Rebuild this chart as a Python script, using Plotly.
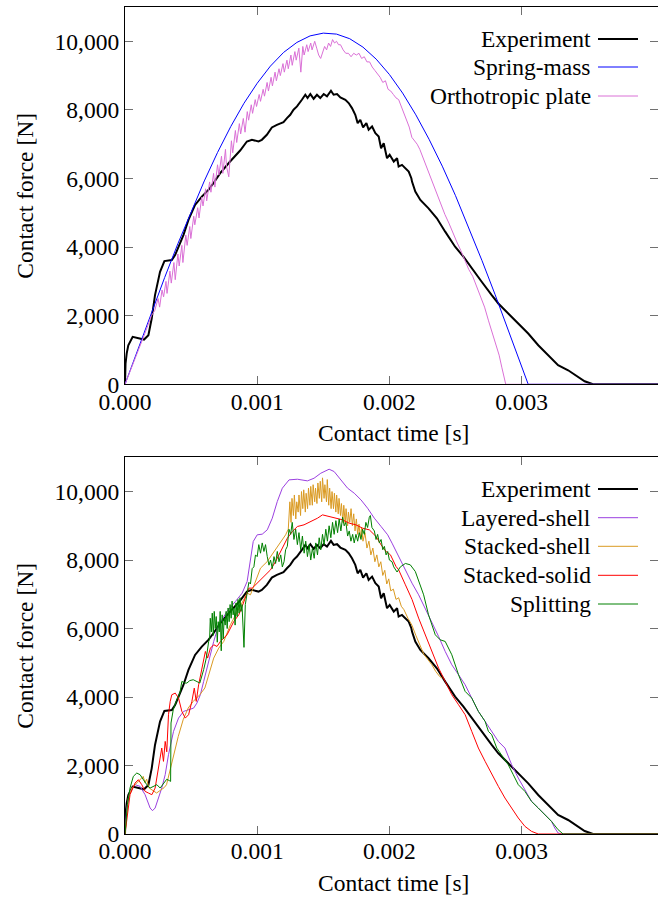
import numpy as np
import plotly.graph_objects as go

# ---------------- data (time in ms, force in N) ----------------
experiment = [
    (0, 0), (0.004, 600), (0.013, 900), (0.025, 1139), (0.058, 1383), (0.101, 1334), (0.144, 1305),
    (0.177, 1431), (0.202, 1918), (0.227, 2600), (0.265, 3281), (0.298, 3593), (0.354, 3622),
    (0.379, 3768), (0.442, 4352), (0.480, 4791), (0.530, 5229), (0.581, 5472), (0.631, 5667),
    (0.669, 5862), (0.720, 6154), (0.795, 6495), (0.871, 6816), (0.922, 7079), (0.960, 7128),
    (1.010, 7079), (1.035, 7128), (1.073, 7274), (1.111, 7488), (1.149, 7566), (1.199, 7644),
    (1.225, 7760), (1.250, 7858), (1.275, 8004), (1.301, 8101), (1.338, 8296), (1.364, 8442),
    (1.381, 8345), (1.402, 8462), (1.427, 8325), (1.452, 8442), (1.477, 8345), (1.503, 8462),
    (1.528, 8393), (1.558, 8559), (1.578, 8442), (1.604, 8462), (1.629, 8364), (1.667, 8296),
    (1.692, 8199), (1.717, 8052), (1.742, 7858), (1.760, 7614), (1.780, 7712), (1.801, 7488),
    (1.826, 7614), (1.843, 7420), (1.869, 7517), (1.894, 7322), (1.919, 7225), (1.937, 6884),
    (1.957, 7030), (1.970, 6738), (1.982, 6592), (2.002, 6690), (2.033, 6495), (2.058, 6592),
    (2.070, 6349), (2.095, 6397), (2.121, 6300), (2.146, 6203), (2.166, 6008), (2.171, 5910),
    (2.196, 5618), (2.234, 5375), (2.296, 5131), (2.359, 4839), (2.422, 4450), (2.497, 4012),
    (2.560, 3720), (2.623, 3379), (2.698, 2989), (2.774, 2600), (2.824, 2356), (2.899, 2064),
    (2.975, 1772), (3.050, 1480), (3.126, 1139), (3.201, 847), (3.276, 555), (3.352, 409),
    (3.427, 214), (3.477, 88), (3.540, 0), (4.10, 0),
]

spring_mass = [
    (0, 0), (0.1, 1053), (0.2, 2094), (0.3, 3113), (0.4, 4099), (0.5, 5043), (0.6, 5930),
    (0.7, 6759), (0.8, 7515), (0.9, 8193), (1.0, 8777), (1.1, 9277), (1.2, 9677), (1.3, 9967),
    (1.4, 10158), (1.5, 10238), (1.6, 10210), (1.7, 10075), (1.8, 9830), (1.9, 9480),
    (2.0, 9033), (2.1, 8490), (2.2, 7856), (2.3, 7144), (2.4, 6360), (2.5, 5500), (2.6, 4580),
    (2.7, 3610), (2.8, 2610), (2.9, 1576), (3.0, 529), (3.05, 0), (4.10, 0),
]

orthotropic_plate = [
    (0, 0), (0.05, 480), (0.10, 950), (0.15, 1480), (0.20, 2000), (0.225, 2150), (0.25, 2500),
    (0.262, 2250), (0.28, 2750), (0.292, 2550), (0.31, 3000), (0.318, 2650), (0.34, 3300),
    (0.35, 2950), (0.37, 3550), (0.38, 3050), (0.40, 3800), (0.41, 3450), (0.43, 4050),
    (0.438, 3550), (0.46, 4350), (0.47, 4050), (0.49, 4600), (0.498, 4250), (0.52, 4900),
    (0.528, 4650), (0.55, 5150), (0.56, 4850), (0.58, 5450), (0.59, 5200), (0.61, 5700),
    (0.618, 5350), (0.64, 5900), (0.65, 5600), (0.67, 6150), (0.68, 5750), (0.70, 6400),
    (0.71, 6100), (0.73, 6650), (0.74, 6150), (0.76, 6850), (0.768, 6350), (0.785, 6050),
    (0.805, 7100), (0.815, 6750), (0.835, 7400), (0.845, 7050), (0.865, 7600), (0.875, 7300),
    (0.895, 7750), (0.908, 7350), (0.925, 7950), (0.935, 7700), (0.955, 8150), (0.965, 7900),
    (0.985, 8300), (0.995, 8100), (1.015, 8450), (1.025, 8250), (1.045, 8600), (1.055, 8400),
    (1.075, 8800), (1.085, 8550), (1.105, 8950), (1.115, 8700), (1.135, 9100), (1.145, 8850),
    (1.165, 9200), (1.175, 9000), (1.195, 9350), (1.205, 9100), (1.225, 9450), (1.235, 9200),
    (1.255, 9600), (1.265, 9300), (1.285, 9700), (1.295, 9450), (1.315, 9800), (1.33, 9100),
    (1.345, 9850), (1.355, 9600), (1.375, 9900), (1.385, 9700), (1.405, 9950), (1.415, 9750),
    (1.435, 10000), (1.45, 9800), (1.465, 9600), (1.48, 9500), (1.495, 9700), (1.51, 9850),
    (1.525, 9750), (1.54, 9950), (1.555, 9850), (1.57, 10050), (1.585, 9950), (1.60, 10000),
    (1.615, 9900), (1.63, 9900), (1.65, 9750), (1.67, 9650), (1.69, 9650), (1.71, 9550),
    (1.73, 9650), (1.75, 9600), (1.77, 9650), (1.79, 9500), (1.81, 9550), (1.83, 9400),
    (1.85, 9400), (1.87, 9250), (1.89, 9150), (1.91, 9050), (1.93, 8950), (1.95, 8800),
    (1.97, 8850), (1.99, 8600), (2.01, 8550), (2.03, 8450), (2.05, 8350), (2.07, 8300),
    (2.09, 8100), (2.11, 7900), (2.13, 7750), (2.15, 7500), (2.17, 7200), (2.19, 7100),
    (2.21, 7000), (2.23, 6850), (2.25, 6650), (2.27, 6400), (2.30, 6100), (2.33, 5800),
    (2.36, 5500), (2.39, 5250), (2.42, 4950), (2.45, 4700), (2.48, 4400), (2.51, 4150),
    (2.54, 3900), (2.57, 3600), (2.60, 3350), (2.63, 3150), (2.66, 2850), (2.69, 2550),
    (2.72, 2250), (2.75, 1850), (2.78, 1450), (2.81, 1100), (2.83, 850), (2.85, 500),
    (2.87, 150), (2.88, 0), (4.10, 0),
]

layered_shell = [
    (0, 0), (0.013, 759), (0.038, 1245), (0.076, 1440), (0.114, 1391), (0.152, 1148),
    (0.190, 759), (0.208, 681), (0.228, 759), (0.253, 1051), (0.278, 1342), (0.304, 1732),
    (0.329, 2315), (0.367, 2996), (0.405, 3385), (0.443, 3580), (0.481, 3629), (0.519, 3677),
    (0.544, 3823), (0.570, 4066), (0.595, 4455), (0.633, 5039), (0.671, 5623), (0.709, 6109),
    (0.772, 6498), (0.835, 6790), (0.886, 7033), (0.924, 7374), (0.949, 8055), (0.970, 8541),
    (1.0, 8736), (1.038, 8755), (1.076, 8882), (1.114, 9222), (1.152, 9709), (1.190, 10098),
    (1.241, 10341), (1.304, 10360), (1.380, 10312), (1.430, 10389), (1.481, 10535),
    (1.544, 10652), (1.582, 10584), (1.633, 10341), (1.684, 10098), (1.734, 9952),
    (1.785, 9757), (1.835, 9514), (1.886, 9222), (1.937, 8979), (1.987, 8736), (2.020, 8493),
    (2.070, 8103), (2.121, 7666), (2.171, 7325), (2.221, 6985), (2.271, 6596), (2.322, 6206),
    (2.372, 5769), (2.422, 5331), (2.472, 4942), (2.523, 4650), (2.573, 4358), (2.623, 3969),
    (2.673, 3580), (2.724, 3288), (2.774, 2996), (2.824, 2704), (2.874, 2510), (2.925, 2023),
    (2.975, 1634), (3.025, 1294), (3.075, 953), (3.126, 759), (3.176, 564), (3.226, 370),
    (3.251, 175), (3.276, 29), (3.300, 0), (4.10, 0),
]

stacked_shell = [
    (0, 0), (0.025, 1051), (0.051, 1342), (0.076, 1440), (0.100, 1550), (0.125, 1650),
    (0.138, 1682), (0.150, 1500), (0.164, 1600), (0.180, 1350), (0.201, 1293), (0.220, 1250),
    (0.239, 1197), (0.258, 1250), (0.277, 1293), (0.295, 1350), (0.314, 1439), (0.340, 1877),
    (0.365, 2266), (0.403, 2850), (0.440, 3337), (0.478, 3679), (0.516, 3872), (0.566, 4067),
    (0.604, 4263), (0.633, 4650), (0.671, 5137), (0.709, 5428), (0.747, 5623), (0.797, 6109),
    (0.848, 6498), (0.899, 6887), (0.924, 7033), (0.949, 6985), (0.987, 7374), (1.025, 7763),
    (1.076, 7957), (1.127, 8249), (1.177, 8541), (1.215, 8736), (1.235, 8900),
    (1.240, 9200), (1.247, 9700), (1.256, 9100), (1.263, 9800), (1.274, 9300), (1.281, 9900),
    (1.292, 9200), (1.299, 9700), (1.310, 9400), (1.316, 9900), (1.328, 9300), (1.335, 10000),
    (1.345, 9500), (1.352, 10050), (1.364, 9400), (1.370, 9950), (1.381, 9500), (1.388, 10100),
    (1.399, 9600), (1.405, 10150), (1.417, 9600), (1.423, 10200), (1.435, 9700), (1.441, 10100),
    (1.452, 9650), (1.459, 10250), (1.470, 9800), (1.477, 10300), (1.488, 9700), (1.494, 10400),
    (1.506, 9800), (1.512, 10200), (1.524, 9700), (1.530, 10350), (1.541, 9600), (1.548, 10100),
    (1.559, 9500), (1.566, 10000), (1.577, 9500), (1.584, 9950), (1.595, 9400), (1.601, 9900),
    (1.613, 9350), (1.619, 9800), (1.630, 9300), (1.637, 9650), (1.648, 9100), (1.655, 9600),
    (1.666, 9050), (1.672, 9500), (1.684, 9000), (1.690, 9400), (1.700, 9100), (1.710, 9500),
    (1.720, 9000), (1.730, 9350), (1.740, 8850), (1.750, 9200), (1.760, 8750), (1.770, 9050),
    (1.780, 8650), (1.790, 8950), (1.800, 8550), (1.815, 8800), (1.830, 8350), (1.845, 8550),
    (1.860, 8150), (1.875, 8350), (1.890, 7950), (1.905, 8150), (1.920, 7800), (1.935, 7950),
    (1.950, 7550), (1.965, 7700), (1.980, 7300), (1.995, 7450), (2.010, 7100), (2.030, 7150),
    (2.050, 6850), (2.070, 6900), (2.090, 6650), (2.110, 6550), (2.140, 6300), (2.170, 6100),
    (2.200, 5800), (2.230, 5500), (2.260, 5250), (2.290, 5100), (2.320, 4950), (2.350, 4750),
    (2.380, 4600), (2.400, 4550),
]

stacked_solid = [
    (0, 0), (0.018, 564), (0.038, 1148), (0.076, 1488), (0.101, 1586), (0.127, 1440),
    (0.152, 1245), (0.177, 1197), (0.203, 1148), (0.228, 1342), (0.246, 1732), (0.266, 2218),
    (0.278, 2510), (0.291, 2121), (0.304, 2704), (0.316, 2400), (0.329, 3483), (0.342, 3872),
    (0.354, 4066), (0.380, 4115), (0.405, 3969), (0.430, 3580), (0.456, 3385), (0.481, 3483),
    (0.506, 3872), (0.524, 4261), (0.539, 3872), (0.557, 4358), (0.582, 4845), (0.608, 5331),
    (0.625, 5137), (0.646, 5428), (0.671, 5525), (0.696, 5477), (0.722, 5623), (0.772, 5817),
    (0.823, 6206), (0.861, 6401), (0.886, 6644), (0.911, 6887), (0.937, 7179), (0.962, 7179),
    (1.0, 7325), (1.051, 7520), (1.101, 7714), (1.139, 7957), (1.177, 8249), (1.203, 8444),
    (1.228, 8638), (1.266, 8833), (1.304, 8979), (1.354, 9028), (1.405, 9125), (1.456, 9222),
    (1.494, 9319), (1.544, 9271), (1.595, 9222), (1.646, 9174), (1.696, 9076), (1.747, 9028),
    (1.797, 8930), (1.848, 8882), (1.899, 8687), (1.937, 8444), (1.975, 8249), (2.008, 8152),
    (2.050, 7813), (2.070, 7714), (2.121, 7277), (2.171, 6850), (2.221, 6304), (2.271, 5817),
    (2.322, 5331), (2.372, 4845), (2.422, 4455), (2.472, 4066), (2.523, 3774), (2.573, 3483),
    (2.623, 2996), (2.673, 2510), (2.724, 2121), (2.774, 1732), (2.824, 1391), (2.874, 1051),
    (2.925, 759), (2.975, 467), (3.025, 224), (3.075, 78), (3.126, 0), (4.10, 0),
]

splitting = [
    (0, 0), (0.018, 856), (0.038, 1342), (0.063, 1683), (0.089, 1780), (0.114, 1732),
    (0.139, 1586), (0.165, 1440), (0.190, 1342), (0.215, 1391), (0.241, 1440), (0.266, 1342),
    (0.291, 1488), (0.316, 1600), (0.335, 1560), (0.345, 1536), (0.348, 3241), (0.365, 3629),
    (0.390, 3900), (0.415, 4117), (0.430, 4455), (0.453, 4409), (0.468, 4407), (0.490, 4480),
    (0.516, 4505), (0.544, 4450), (0.566, 4409), (0.595, 4800), (0.615, 5137), (0.633, 5623),
    (0.640, 5700), (0.645, 6300), (0.653, 5900), (0.660, 6450), (0.668, 5800), (0.675, 6500),
    (0.683, 6000), (0.690, 6350), (0.698, 5600), (0.705, 6200), (0.713, 5900), (0.720, 6500),
    (0.728, 5350), (0.735, 6400), (0.743, 5700), (0.750, 6300), (0.758, 6100), (0.765, 6500),
    (0.773, 6000), (0.780, 6600), (0.788, 6200), (0.795, 6700), (0.803, 6300), (0.810, 6800),
    (0.818, 6400), (0.825, 6600), (0.833, 6100), (0.840, 6750), (0.848, 6350), (0.855, 6850),
    (0.863, 6450), (0.870, 6900), (0.878, 6500), (0.885, 6700), (0.893, 6200), (0.900, 5450),
    (0.910, 6700), (0.924, 6985), (0.937, 7350),
    (0.949, 7300), (0.962, 7750), (0.975, 7800), (0.987, 8150), (1.000, 8100), (1.012, 8450),
    (1.025, 8200), (1.038, 8500), (1.051, 8250), (1.063, 8450), (1.076, 8100), (1.089, 7850),
    (1.101, 8000), (1.114, 7750), (1.127, 8100), (1.139, 7900), (1.152, 8250), (1.165, 7950),
    (1.178, 8150), (1.190, 7800), (1.203, 7950), (1.215, 8300), (1.228, 8400), (1.240, 8900),
    (1.253, 8750), (1.265, 9100), (1.278, 8600), (1.291, 8900), (1.304, 8450), (1.316, 8800),
    (1.329, 8300), (1.342, 8700), (1.355, 8200), (1.367, 8550), (1.380, 8100), (1.393, 8450),
    (1.405, 8000), (1.418, 8350), (1.431, 8050), (1.443, 8500), (1.456, 8150), (1.469, 8650),
    (1.481, 8300), (1.494, 8750), (1.506, 8450), (1.519, 8900), (1.531, 8550), (1.544, 9000),
    (1.557, 8650), (1.570, 9100), (1.582, 8750), (1.595, 9150), (1.608, 8800), (1.620, 9200),
    (1.633, 8850), (1.646, 9250), (1.658, 9000), (1.671, 9100), (1.684, 8700), (1.696, 8850),
    (1.709, 8550), (1.722, 8750), (1.734, 8500), (1.747, 8750), (1.760, 8550), (1.772, 8800),
    (1.785, 8600), (1.797, 8900), (1.810, 8750), (1.822, 9100), (1.835, 8950), (1.848, 9250),
    (1.856, 9300), (1.868, 8950), (1.886, 8850), (1.899, 8600), (1.911, 8750), (1.924, 8500),
    (1.937, 8600), (1.950, 8300), (1.962, 8400), (1.975, 8150), (1.987, 8250), (2.000, 8000),
    (2.020, 7950), (2.033, 7800), (2.058, 7650), (2.083, 7800), (2.121, 7900), (2.158, 7860),
    (2.196, 7666), (2.221, 7374), (2.259, 6985), (2.296, 6401), (2.347, 5817), (2.384, 5671),
    (2.422, 5623), (2.472, 5234), (2.523, 4650), (2.573, 4164), (2.623, 3969), (2.673, 3580),
    (2.724, 3288), (2.749, 2996), (2.774, 2899), (2.812, 2510), (2.849, 2315), (2.899, 2023),
    (2.937, 1732), (2.975, 1440), (3.025, 1245), (3.075, 953), (3.126, 759), (3.176, 564),
    (3.226, 370), (3.276, 126), (3.314, 0), (4.10, 0),
]

x_ticks = [0.0, 0.001, 0.002, 0.003]
x_tick_labels = ["0.000", "0.001", "0.002", "0.003"]
y_ticks = [0, 2000, 4000, 6000, 8000, 10000]
y_tick_labels = ["0", "2,000", "4,000", "6,000", "8,000", "10,000"]

top_series = [
    ("Experiment", experiment, "#000000", 2.0),
    ("Spring-mass", spring_mass, "#0000FF", 1.0),
    ("Orthotropic plate", orthotropic_plate, "#DA70D6", 1.0),
]
bottom_series = [
    ("Experiment", experiment, "#000000", 2.0),
    ("Layered-shell", layered_shell, "#9B40E0", 1.0),
    ("Stacked-shell", stacked_shell, "#DA9A22", 1.0),
    ("Stacked-solid", stacked_solid, "#FF0000", 1.0),
    ("Splitting", splitting, "#008000", 1.0),
]

# ---------------- layout geometry (pixels) ----------------
W, H = 658, 898
ML, MR, MT, MB = 125, 0, 7, 64
PW, PH = W - ML - MR, H - MT - MB
def px2x(px):
    return (px - ML) / PW
def px2y(py):
    return (H - MB - py) / PH

FONT = "Liberation Serif"
FS = 23.5

fig = go.Figure()

def add_series(series, xa, ya):
    for name, pts, col, lw in series:
        t = np.array([p[0] for p in pts]) * 1e-3
        f = np.array([p[1] for p in pts], dtype=float)
        fig.add_trace(go.Scatter(x=t, y=f, mode="lines", name=name,
                                 line=dict(color=col, width=lw),
                                 xaxis=xa, yaxis=ya, showlegend=False,
                                 hoverinfo="skip"))

add_series(top_series, "x", "y")
add_series(bottom_series, "x2", "y2")

axis_common = dict(
    showgrid=False, zeroline=False, showline=True, linecolor="#000000", linewidth=1.2,
    mirror="ticks", ticks="inside", ticklen=8, tickwidth=1, tickcolor="#707070",
    tickfont=dict(family=FONT, size=FS, color="#000000"),
)
xmax = PW / 132.2 * 1e-3
top_dom = [px2y(384.3), 1.0]
bot_dom = [0.0, px2y(457.3)]

fig.update_layout(
    width=W, height=H,
    margin=dict(l=ML, r=MR, t=MT, b=MB, pad=0),
    paper_bgcolor="white", plot_bgcolor="white",
    showlegend=False,
    xaxis=dict(domain=[0, 1], anchor="y", range=[0, xmax], tickvals=x_ticks,
               ticktext=x_tick_labels, ticklabelstandoff=-4, **axis_common),
    yaxis=dict(domain=top_dom, anchor="x", range=[0, 11000], tickvals=y_ticks,
               ticktext=y_tick_labels, **axis_common),
    xaxis2=dict(domain=[0, 1], anchor="y2", range=[0, xmax], tickvals=x_ticks,
                ticktext=x_tick_labels, ticklabelstandoff=-4, **axis_common),
    yaxis2=dict(domain=bot_dom, anchor="x2", range=[0, 11000], tickvals=y_ticks,
                ticktext=y_tick_labels, **axis_common),
)

annotations = []
shapes = []
tfont = dict(family=FONT, size=FS, color="#000000")
# axis titles
for yc in (195.7, 645.7):
    annotations.append(dict(text="Contact force [N]", x=px2x(25), y=px2y(yc), xref="paper",
                            yref="paper", xanchor="center", yanchor="middle", textangle=-90,
                            showarrow=False, font=tfont))
for yc in (433, 883):
    annotations.append(dict(text="Contact time [s]", x=px2x(393), y=px2y(yc), xref="paper",
                            yref="paper", xanchor="center", yanchor="middle",
                            showarrow=False, font=tfont))

# legends (text on the left, line sample on the right)
def legend(series, rows):
    for (name, pts, col, lw), yr in zip(series, rows):
        annotations.append(dict(text=name, x=px2x(593), y=px2y(yr), xref="paper", yref="paper",
                                xanchor="right", yanchor="middle", showarrow=False, font=tfont))
        shapes.append(dict(type="line", xref="paper", yref="paper", x0=px2x(598), x1=px2x(638),
                           y0=px2y(yr), y1=px2y(yr), line=dict(color=col, width=lw)))

legend(top_series, [39, 67, 96])
legend(bottom_series, [489, 517.7, 546.3, 575.3, 604])

fig.update_layout(annotations=annotations, shapes=shapes)
fig.write_html("out.html")
